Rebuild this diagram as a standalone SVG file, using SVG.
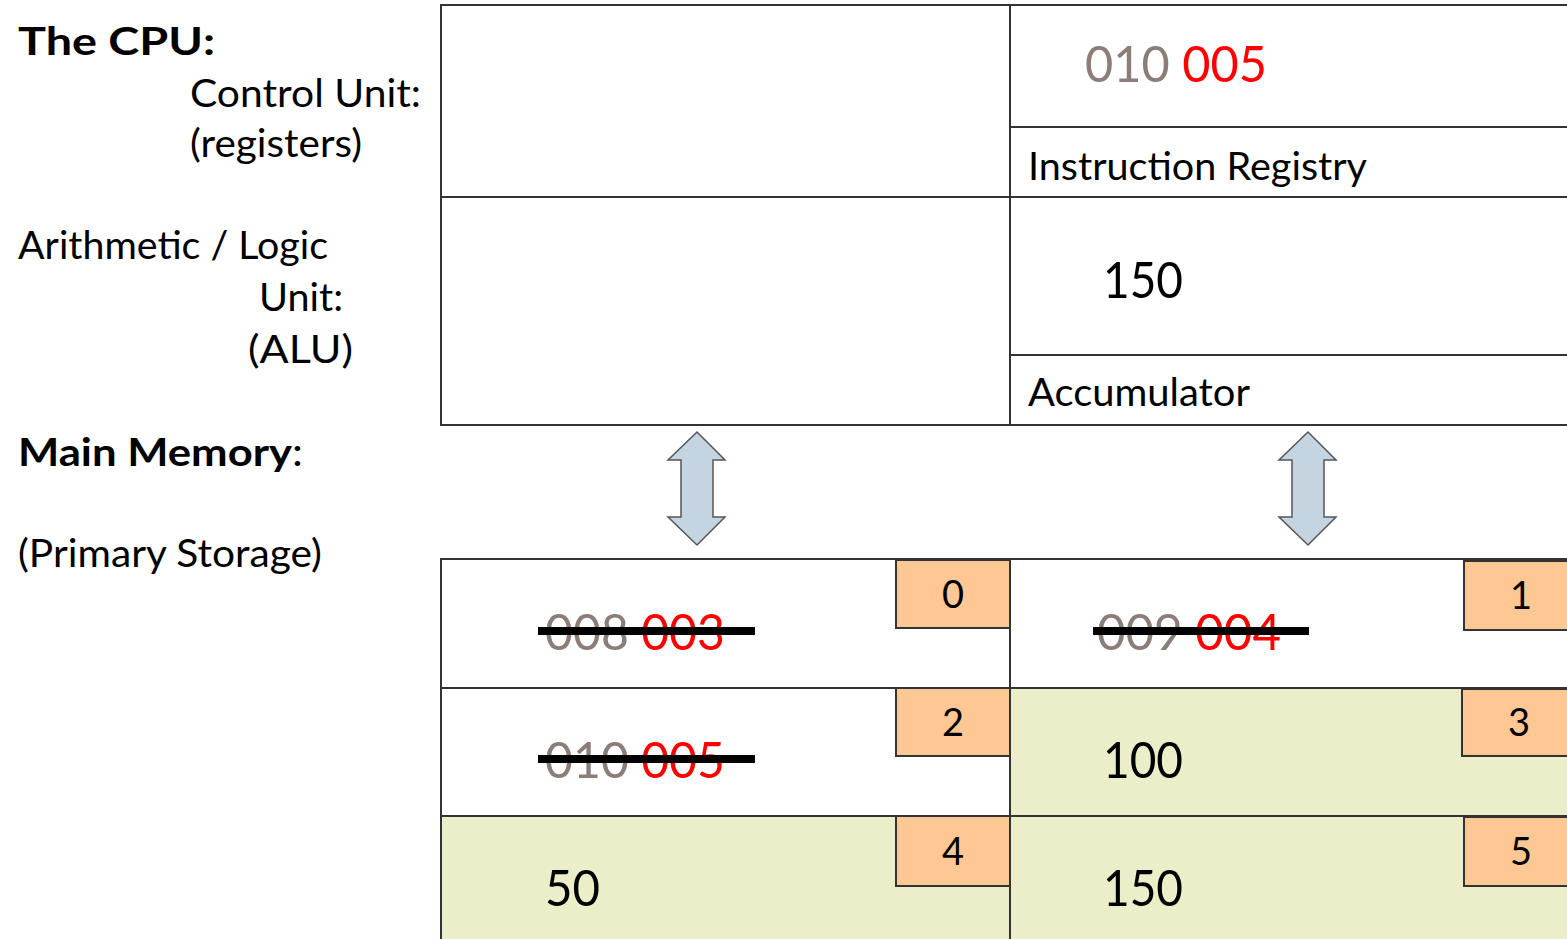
<svg xmlns="http://www.w3.org/2000/svg" width="1567" height="939" viewBox="0 0 1567 939">
<style>
text{font-family:Lato,"Open Sans","DejaVu Sans",sans-serif;fill:#000}
.lbl{font-size:38px}
.bold{font-size:39px;font-weight:bold}
.reg{font-weight:normal}
.num{font-size:51px}
.gray{fill:#8b7d77}
.red{fill:#ff0000}
.tag{font-size:38px;text-anchor:middle}
.grid{stroke:#333;stroke-width:2;fill:none}
.tagbox{fill:#fdc894;stroke:#333;stroke-width:2}
.strike{stroke:#000;stroke-width:8}
.arrow{fill:#c5d4e1;stroke:#555;stroke-width:1.5}
.green{fill:#eceeca}
</style>
<rect width="1567" height="939" fill="#fff"/>
<g id="labels">
<text class="bold" x="18" y="55" textLength="197" lengthAdjust="spacingAndGlyphs">The CPU:</text>
<text class="lbl" x="190" y="107" textLength="231" lengthAdjust="spacingAndGlyphs">Control Unit:</text>
<text class="lbl" x="190" y="157" textLength="172" lengthAdjust="spacingAndGlyphs">(registers)</text>
<text class="lbl" x="18" y="259" textLength="310" lengthAdjust="spacingAndGlyphs">Arithmetic / Logic</text>
<text class="lbl" x="259" y="311" textLength="84" lengthAdjust="spacingAndGlyphs">Unit:</text>
<text class="lbl" x="248" y="363" textLength="105" lengthAdjust="spacingAndGlyphs">(ALU)</text>
<text class="bold" x="18" y="466" textLength="285" lengthAdjust="spacingAndGlyphs">Main Memory<tspan class="reg">:</tspan></text>
<text class="lbl" x="18" y="567" textLength="304" lengthAdjust="spacingAndGlyphs">(Primary Storage)</text>
</g>
<g id="cpu-grid">
<path class="grid" d="M440 5H1567M441 5V425M1010 5V425M441 197H1567M1010 127H1567M1010 355H1567M440 425H1567"/>
</g>
<g id="instruction-registry">
<text class="num" x="1085" y="82" textLength="182" lengthAdjust="spacingAndGlyphs"><tspan class="gray">010</tspan> <tspan class="red">005</tspan></text>
<text class="lbl" x="1028" y="180" textLength="339" lengthAdjust="spacingAndGlyphs">Instruction Registry</text>
</g>
<g id="accumulator">
<text class="num" x="1103" y="298" textLength="80" lengthAdjust="spacingAndGlyphs">150</text>
<text class="lbl" x="1028" y="406" textLength="222" lengthAdjust="spacingAndGlyphs">Accumulator</text>
</g>
<g id="connectors">
<polygon class="arrow" points="697,432 725,460 713,460 713,517 725,517 697,545 668,517 681,517 681,460 668,460"/>
<polygon class="arrow" points="1308,432 1336,460 1324,460 1324,517 1336,517 1308,545 1279,517 1292,517 1292,460 1279,460"/>
</g>
<g id="memory">
<rect class="green" x="1010" y="688" width="557" height="128"/>
<rect class="green" x="441" y="816" width="569" height="123"/>
<rect class="green" x="1010" y="816" width="557" height="123"/>
<path class="grid" d="M440 559H1567M441 559V939M1010 559V939M441 688H1567M441 816H1567"/>
</g>
<g id="cell-0">
<rect class="tagbox" x="896" y="560" width="114" height="68"/>
<text class="tag" x="953" y="608">0</text>
<text class="num" x="545" y="650" textLength="180" lengthAdjust="spacingAndGlyphs"><tspan class="gray">008</tspan> <tspan class="red">003</tspan></text>
<line class="strike" x1="538" y1="631" x2="755" y2="631"/>
</g>
<g id="cell-1">
<rect class="tagbox" x="1464" y="561" width="110" height="69"/>
<text class="tag" x="1521" y="609">1</text>
<text class="num" x="1097" y="650" textLength="184" lengthAdjust="spacingAndGlyphs"><tspan class="gray">009</tspan> <tspan class="red">004</tspan></text>
<line class="strike" x1="1093" y1="631" x2="1309" y2="631"/>
</g>
<g id="cell-2">
<rect class="tagbox" x="896" y="688" width="114" height="68"/>
<text class="tag" x="953" y="736">2</text>
<text class="num" x="545" y="778" textLength="180" lengthAdjust="spacingAndGlyphs"><tspan class="gray">010</tspan> <tspan class="red">005</tspan></text>
<line class="strike" x1="538" y1="759" x2="755" y2="759"/>
</g>
<g id="cell-3">
<rect class="tagbox" x="1462" y="689" width="112" height="67"/>
<text class="tag" x="1519" y="736">3</text>
<text class="num" x="1103" y="778" textLength="80" lengthAdjust="spacingAndGlyphs">100</text>
</g>
<g id="cell-4">
<rect class="tagbox" x="896" y="816" width="114" height="70"/>
<text class="tag" x="953" y="865">4</text>
<text class="num" x="545" y="906" textLength="55" lengthAdjust="spacingAndGlyphs">50</text>
</g>
<g id="cell-5">
<rect class="tagbox" x="1464" y="817" width="110" height="69"/>
<text class="tag" x="1521" y="865">5</text>
<text class="num" x="1103" y="906" textLength="80" lengthAdjust="spacingAndGlyphs">150</text>
</g>
</svg>
